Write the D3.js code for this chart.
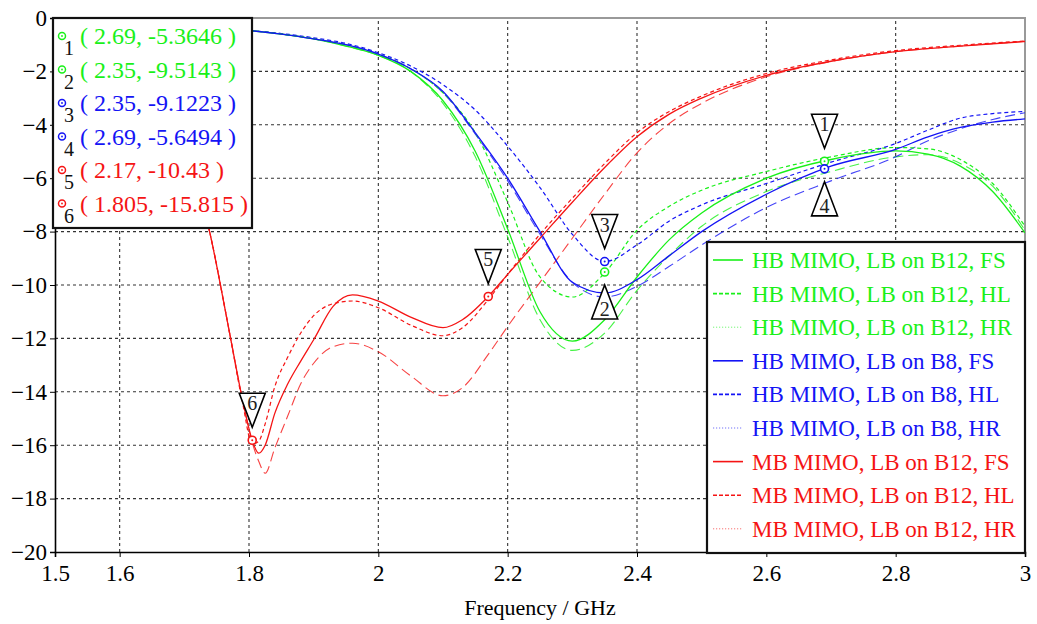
<!DOCTYPE html>
<html>
<head>
<meta charset="utf-8">
<script src="https://cdn.jsdelivr.net/npm/d3@7"></script>
<style>
  body { margin: 0; background: #fff; }
  svg { display: block; }
  svg text { font-family: "Liberation Serif", "Tinos", "Times New Roman", "DejaVu Serif", "Noto Serif", serif !important; }
</style>
</head>
<body>
<div id="wrapper"></div>
<script>
// frequency grids (GHz)
const freqHB = [1.5, 1.6, 1.7, 1.8, 1.85, 1.9, 1.95, 2.0, 2.05, 2.1, 2.15, 2.2, 2.25, 2.3, 2.35, 2.4, 2.45, 2.5, 2.6, 2.7, 2.8, 2.85, 2.9, 2.95, 3.0];
const freqMB = [1.5, 1.6, 1.65, 1.7, 1.74, 1.77, 1.79, 1.805, 1.815, 1.825, 1.84, 1.86, 1.88, 1.9, 1.93, 1.96, 2.0, 2.05, 2.1, 2.13, 2.17, 2.2, 2.25, 2.3, 2.35, 2.4, 2.45, 2.5, 2.6, 2.7, 2.8, 2.9, 3.0];

// S-parameter values (dB)
const hbB12FS = [-0.15, -0.25, -0.35, -0.47, -0.6, -0.78, -1.05, -1.4, -2.0, -3.1, -5.0, -7.9, -11.0, -12.1, -11.3, -9.7, -8.3, -7.3, -6.0, -5.3, -4.98, -5.1, -5.55, -6.5, -8.05];
const hbB12HL = [-0.15, -0.25, -0.35, -0.47, -0.6, -0.78, -1.0, -1.35, -1.9, -2.8, -4.3, -6.9, -9.7, -10.45, -9.55, -7.95, -7.05, -6.45, -5.75, -5.2, -4.85, -4.9, -5.3, -6.2, -7.8];
const hbB12HR = [-0.15, -0.25, -0.35, -0.47, -0.6, -0.78, -1.05, -1.4, -2.0, -3.2, -5.2, -8.2, -11.3, -12.45, -11.8, -10.2, -8.9, -7.8, -6.5, -5.75, -5.2, -5.12, -5.45, -6.3, -7.95];
const hbB8FS = [-0.15, -0.25, -0.35, -0.47, -0.6, -0.78, -1.0, -1.35, -1.9, -2.75, -4.3, -6.0, -8.0, -9.9, -10.3, -9.8, -8.9, -8.0, -6.6, -5.55, -4.92, -4.45, -4.1, -3.9, -3.78];
const hbB8HL = [-0.15, -0.25, -0.35, -0.47, -0.58, -0.74, -0.95, -1.3, -1.8, -2.5, -3.45, -4.8, -6.35, -8.1, -9.12, -8.5, -7.6, -7.0, -6.2, -5.4, -4.7, -4.2, -3.75, -3.58, -3.5];
const hbB8HR = [-0.15, -0.25, -0.35, -0.47, -0.6, -0.78, -1.0, -1.35, -1.9, -2.8, -4.35, -6.1, -8.1, -9.9, -10.45, -10.05, -9.3, -8.5, -7.1, -6.1, -5.2, -4.6, -4.15, -3.8, -3.55];
const mbB12FS = [-0.3, -1.2, -2.3, -4.5, -8.1, -11.8, -14.3, -15.82, -16.3, -16.0, -14.8, -13.7, -12.85, -12.05, -10.8, -10.37, -10.6, -11.2, -11.6, -11.3, -10.43, -9.6, -8.25, -6.9, -5.6, -4.45, -3.6, -3.0, -2.15, -1.62, -1.26, -1.05, -0.88];
const mbB12HL = [-0.3, -1.2, -2.3, -4.5, -8.1, -11.8, -14.4, -15.95, -15.85, -15.2, -13.8, -12.7, -11.8, -11.15, -10.7, -10.6, -10.85, -11.5, -11.9, -11.6, -10.55, -9.6, -8.1, -6.75, -5.45, -4.3, -3.5, -2.92, -2.08, -1.57, -1.22, -1.02, -0.86];
const mbB12HR = [-0.3, -1.2, -2.3, -4.5, -8.1, -11.8, -14.3, -15.9, -16.6, -17.05, -16.1, -14.9, -13.7, -12.93, -12.31, -12.18, -12.5, -13.4, -14.15, -13.85, -12.6, -11.55, -9.9, -8.25, -6.6, -5.05, -3.95, -3.2, -2.2, -1.63, -1.26, -1.05, -0.88];

const seriesNames = ["HB MIMO, LB on B12, FS", "HB MIMO, LB on B12, HL", "HB MIMO, LB on B12, HR",
  "HB MIMO, LB on B8, FS", "HB MIMO, LB on B8, HL", "HB MIMO, LB on B8, HR",
  "MB MIMO, LB on B12, FS", "MB MIMO, LB on B12, HL", "MB MIMO, LB on B12, HR"];

// markers
const markerIds = [1, 2, 3, 4, 5, 6];
const markerF = [2.69, 2.35, 2.35, 2.69, 2.17, 1.805];
const markerV = [-5.3646, -9.5143, -9.1223, -5.6494, -10.43, -15.815];
const markerLabels = ["( 2.69, -5.3646 )", "( 2.35, -9.5143 )", "( 2.35, -9.1223 )", "( 2.69, -5.6494 )", "( 2.17, -10.43 )", "( 1.805, -15.815 )"];
const markerUp = [false, true, false, true, false, false]; // triangle below point

const xTicks = [1.5, 1.6, 1.8, 2, 2.2, 2.4, 2.6, 2.8, 3];
const yTicks = d3.range(-20, 1, 2);

const green = "#19f019", blue = "#1414f5", red = "#f51414";
const markerColors = [green, green, blue, blue, red, red];
const serif = "'Liberation Serif', Tinos, 'Times New Roman', 'DejaVu Serif', serif";

const width = 1037, height = 624;
const margin = { top: 18, right: 12, bottom: 72, left: 55 };

const svg = d3.select("#wrapper").append("svg")
    .attr("width", width)
    .attr("height", height)
    .attr("font-family", serif);

const x = d3.scaleLinear().domain([1.5, 3]).range([margin.left, width - margin.right]);
const y = d3.scaleLinear().domain([-20, 0]).range([height - margin.bottom, margin.top]);

// grid
svg.append("g").selectAll("line")
    .data(yTicks.filter(d => d > -20 && d < 0))
    .join("line")
    .attr("x1", x(1.5)).attr("x2", x(3))
    .attr("y1", d => y(d)).attr("y2", d => y(d))
    .attr("stroke", "#333").attr("stroke-width", 1.1).attr("stroke-dasharray", "3,3");
svg.append("g").selectAll("line")
    .data(xTicks.filter(d => d > 1.5 && d < 3))
    .join("line")
    .attr("x1", d => x(d)).attr("x2", d => x(d))
    .attr("y1", y(-20)).attr("y2", y(0))
    .attr("stroke", "#333").attr("stroke-width", 1.1).attr("stroke-dasharray", "3,3");

// frame top / right
svg.append("path")
    .attr("d", `M${x(1.5)},${y(0)}H${x(3)}V${y(-20)}`)
    .attr("fill", "none").attr("stroke", "#999").attr("stroke-width", 2);

// axes
const yAxis = svg.append("g")
    .attr("transform", `translate(${x(1.5)},0)`)
    .call(d3.axisLeft(y).tickValues(yTicks).tickSize(5).tickPadding(3).tickFormat(d3.format("")));
const xAxis = svg.append("g")
    .attr("transform", `translate(0,${y(-20)})`)
    .call(d3.axisBottom(x).tickValues(xTicks).tickSize(5).tickPadding(8).tickFormat(d3.format("")));
[xAxis, yAxis].forEach(a => {
    a.attr("font-family", serif);
    a.select(".domain").attr("stroke", "#000").attr("stroke-width", 1.6);
    a.selectAll(".tick line").attr("stroke", "#000");
    a.selectAll("text").attr("font-size", 23).attr("fill", "#000");
});

svg.append("text")
    .attr("x", (x(1.5) + x(3)) / 2).attr("y", 615)
    .attr("text-anchor", "middle").attr("font-size", 22)
    .text("Frequency / GHz");

// curves
const styles = [
    { color: green, dash: null, op: 1, w: 1.3, legDash: null },
    { color: green, dash: "4,3", op: 1, w: 1.2, legDash: "4,2" },
    { color: green, dash: "10,5", op: 0.8, w: 1.1, legDash: "1.2,1.8" },
    { color: blue, dash: null, op: 1, w: 1.3, legDash: null },
    { color: blue, dash: "4,3", op: 1, w: 1.2, legDash: "4,2" },
    { color: blue, dash: "10,5", op: 0.8, w: 1.1, legDash: "1.2,1.8" },
    { color: red, dash: null, op: 1, w: 1.3, legDash: null },
    { color: red, dash: "4,3", op: 1, w: 1.2, legDash: "4,2" },
    { color: red, dash: "10,5", op: 0.8, w: 1.1, legDash: "1.2,1.8" }
];
const seriesValues = [hbB12FS, hbB12HL, hbB12HR, hbB8FS, hbB8HL, hbB8HR, mbB12FS, mbB12HL, mbB12HR];
const seriesFreq = [freqHB, freqHB, freqHB, freqHB, freqHB, freqHB, freqMB, freqMB, freqMB];

svg.append("clipPath").attr("id", "plotClip")
    .append("rect")
    .attr("x", x(1.5)).attr("y", y(0))
    .attr("width", x(3) - x(1.5)).attr("height", y(-20) - y(0));

const line = d3.line()
    .x(d => x(d[0]))
    .y(d => y(d[1]))
    .curve(d3.curveMonotoneX);

const curves = svg.append("g").attr("clip-path", "url(#plotClip)");
// draw HR first, then HL, then FS on top
[2, 5, 8, 1, 4, 7, 0, 3, 6].forEach(i => {
    const pts = seriesFreq[i].map((f, k) => [f, seriesValues[i][k]]);
    curves.append("path")
        .attr("d", line(pts))
        .attr("fill", "none")
        .attr("stroke", styles[i].color)
        .attr("stroke-width", styles[i].w)
        .attr("stroke-opacity", styles[i].op)
        .attr("stroke-dasharray", styles[i].dash);
});

// marker annotations
const mk = svg.append("g");
markerIds.forEach((id, i) => {
    const cx = x(markerF[i]), cy = y(markerV[i]);
    const tw = 13, th = 34, gap = 13;
    let pts, ty;
    if (markerUp[i]) {
        pts = [[cx, cy + gap], [cx - tw, cy + gap + th], [cx + tw, cy + gap + th]];
        ty = cy + gap + th - 3;
    } else {
        pts = [[cx - tw, cy - gap - th], [cx + tw, cy - gap - th], [cx, cy - gap]];
        ty = cy - gap - th + 17;
    }
    mk.append("polygon")
        .attr("points", pts.map(p => p.join(",")).join(" "))
        .attr("fill", "#fff").attr("stroke", "#000").attr("stroke-width", 1.6);
    mk.append("text")
        .attr("x", cx).attr("y", ty)
        .attr("text-anchor", "middle").attr("font-size", 20).attr("fill", "#222")
        .text(id);
    mk.append("circle").attr("cx", cx).attr("cy", cy).attr("r", 4)
        .attr("fill", "#fff").attr("stroke", markerColors[i]).attr("stroke-width", 1.6);
    mk.append("circle").attr("cx", cx).attr("cy", cy).attr("r", 1)
        .attr("fill", markerColors[i]);
});

// marker table (top-left)
const mt = svg.append("g");
mt.append("rect")
    .attr("x", 53).attr("y", 18).attr("width", 199).attr("height", 210)
    .attr("fill", "#fff").attr("stroke", "#111").attr("stroke-width", 2.2);
markerIds.forEach((id, i) => {
    const yy = 36 + i * 33.5;
    mt.append("circle").attr("cx", 62).attr("cy", yy).attr("r", 3.5)
        .attr("fill", "#fff").attr("stroke", markerColors[i]).attr("stroke-width", 1.5);
    mt.append("circle").attr("cx", 62).attr("cy", yy).attr("r", 0.9).attr("fill", markerColors[i]);
    mt.append("text").attr("x", 64).attr("y", yy + 19)
        .attr("font-size", 20).attr("fill", "#111").text(id);
    mt.append("text").attr("x", 80).attr("y", yy + 8)
        .attr("font-size", 24).attr("fill", markerColors[i]).text(markerLabels[i]);
});

// series legend (bottom-right)
const lg = svg.append("g");
lg.append("rect")
    .attr("x", 707).attr("y", 242).attr("width", 318).attr("height", 311)
    .attr("fill", "#fff").attr("stroke", "#111").attr("stroke-width", 2.2);
seriesNames.forEach((name, i) => {
    const yy = 260 + i * 33.6;
    lg.append("line")
        .attr("x1", 713).attr("x2", 743).attr("y1", yy).attr("y2", yy)
        .attr("stroke", styles[i].color)
        .attr("stroke-width", styles[i].legDash === "1.2,1.8" ? 1 : 1.6)
        .attr("stroke-opacity", styles[i].legDash === "1.2,1.8" ? 0.6 : 1)
        .attr("stroke-dasharray", styles[i].legDash);
    lg.append("text")
        .attr("x", 752).attr("y", yy + 8)
        .attr("font-size", 23).attr("fill", styles[i].color)
        .text(name);
});
</script>
</body>
</html>
